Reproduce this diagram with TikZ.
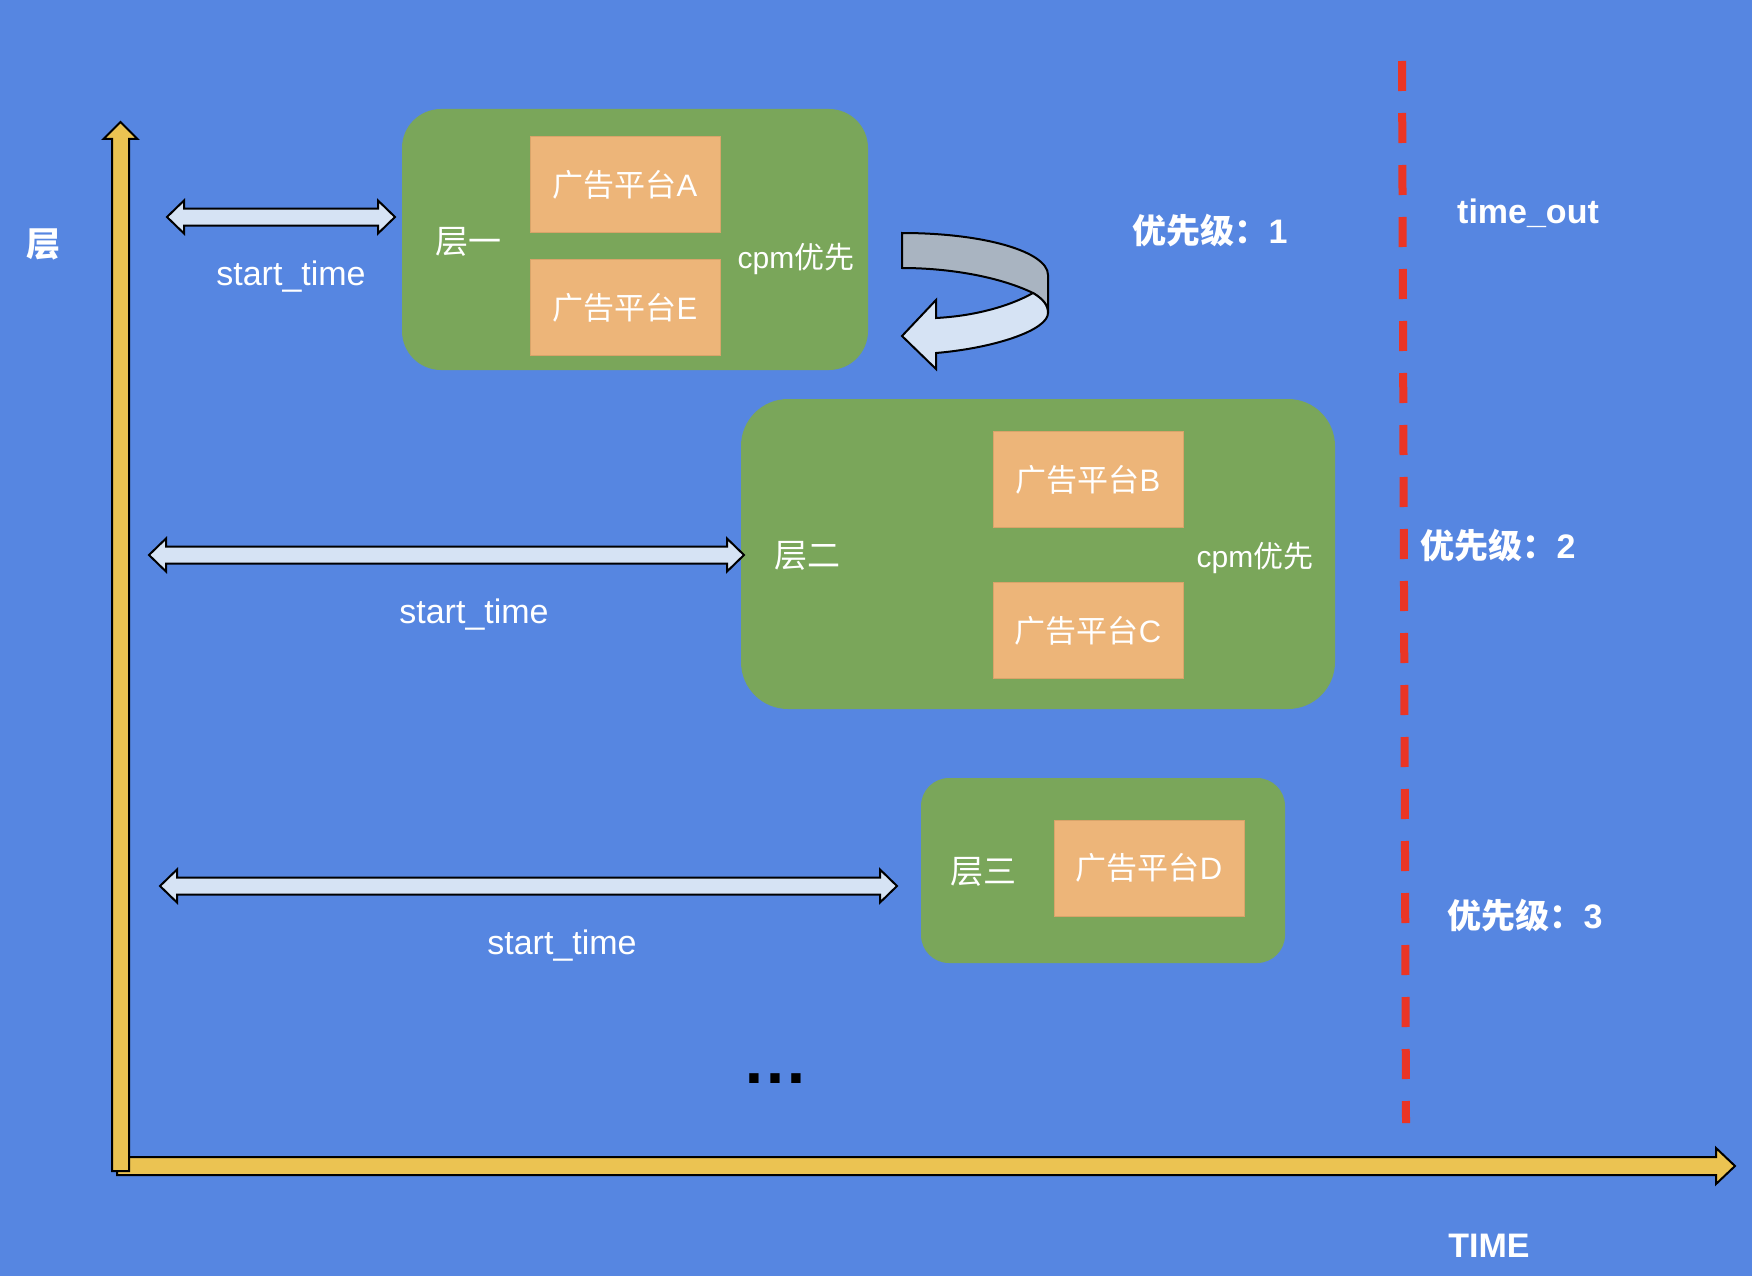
\documentclass[tikz,border=0pt]{standalone}
\usepackage{fontspec}
\setmainfont{Liberation Sans}
\newfontfamily\cjk{Noto Sans CJK SC}
\usetikzlibrary{positioning,calc}
\definecolor{bgblue}{HTML}{5686E1}
\definecolor{tiergreen}{HTML}{7AA65A}
\definecolor{adorange}{HTML}{EDB579}
\definecolor{adedge}{HTML}{D9A46A}
\definecolor{axisyellow}{HTML}{EBC352}
\definecolor{spanfill}{HTML}{D6E3F4}
\definecolor{turngray}{HTML}{A9B4C1}
\definecolor{cutred}{HTML}{EA3525}
\newcommand\zh[1]{{\cjk #1}}
\newcommand\spanarrow[2]{%
  \draw[spanbar] let \p1=(#1), \p2=(#2) in
    (\x1,\y1) -- (\x1+17pt,\y1+16.5pt) -- (\x1+17pt,\y1+8.5pt)
    -- (\x2-17pt,\y1+8.5pt) -- (\x2-17pt,\y1+16.5pt) -- (\x2,\y1)
    -- (\x2-17pt,\y1-16.5pt) -- (\x2-17pt,\y1-8.5pt)
    -- (\x1+17pt,\y1-8.5pt) -- (\x1+17pt,\y1-16.5pt) -- cycle;}

\begin{document}
\begin{tikzpicture}[x=1pt,y=-1pt,
    tier/.style={fill=tiergreen,rounded corners=#1,inner sep=0,outer sep=0},
    platform/.style={fill=adorange,draw=adedge,line width=1pt,minimum width=190pt,
                     minimum height=96pt,inner sep=0,outer sep=0,text=white,
                     font=\fontsize{31}{36}\selectfont},
    lbl/.style={text=white,inner sep=0,font=\fontsize{34}{40}\selectfont},
    tag/.style={text=white,inner sep=0,font=\fontsize{34}{40}\selectfont\bfseries},
    spanbar/.style={draw=black,line width=2pt,fill=spanfill},
    axisbar/.style={draw=black,line width=2pt,fill=axisyellow},
    timeout/.style={draw=cutred,line width=8pt,dash pattern=on 30pt off 22pt}]
    \fill[bgblue] (0,0) rectangle (1752,1276);
    \useasboundingbox (0,0) rectangle (1752,1276);

    % layers
    \node [tier=39pt,minimum width=466pt,minimum height=261pt] (l1) at (635,239.5) {};
    \node [tier=47pt,minimum width=594pt,minimum height=310pt] (l2) at (1038,554) {};
    \node [tier=28pt,minimum width=364pt,minimum height=185pt] (l3) at (1103,870.5) {};

    \node [platform] (A) at (625,184.5)  {\zh{广告平台}A};
    \node [platform] (E) [below=27pt of A] {\zh{广告平台}E};
    \node [platform] (B) at (1088,479.5) {\zh{广告平台}B};
    \node [platform] (C) [below=55pt of B] {\zh{广告平台}C};
    \node [platform] (D) at (1149,868)   {\zh{广告平台}D};

    \node [lbl,font=\fontsize{33}{38}\selectfont] (n1) at (468,242) {\zh{层一}};
    \node [lbl,font=\fontsize{33}{38}\selectfont] (n2) at (807,556) {\zh{层二}};
    \node [lbl,font=\fontsize{33}{38}\selectfont] (n3) at (983,872) {\zh{层三}};
    \node [lbl,font=\fontsize{30}{36}\selectfont] (c1) at (796,259)  {cpm\zh{优先}};
    \node [lbl,font=\fontsize{30}{36}\selectfont] (c2) at (1255,558) {cpm\zh{优先}};

    % turn arrow
    \draw[line width=2pt,fill=turngray] (902,233) .. controls (985,233) and (1048,252) .. (1048,275)
        -- (1048,313) .. controls (1048,305) and (1043,299) .. (1033,293)
        .. controls (1000,277) and (950,268) .. (902,268) -- cycle;
    \draw[line width=2pt,fill=spanfill] (1033,293) .. controls (1043,299) and (1048,305) .. (1048,313)
        .. controls (1048,330) and (995,348) .. (936,353) -- (936,369) -- (902,336)
        -- (936,300) -- (936,318) .. controls (975,316) and (1010,306) .. (1033,293) -- cycle;

    % start_time spans
    \coordinate (s1) at (167,217);
    \coordinate (s2) at (149,555);
    \coordinate (s3) at (160,886);
    \spanarrow{s1}{$(l1.west)+(-7,0)$}
    \spanarrow{s2}{$(l2.west)+(3,0)$}
    \spanarrow{s3}{$(l3.west)+(-24,0)$}
    \node [lbl,anchor=base] (t1) at (291,285) {start\_time};
    \node [lbl,anchor=base] (t2) at (474,623) {start\_time};
    \node [lbl,anchor=base] (t3) at (562,954) {start\_time};

    % axes
    \coordinate (xo) at (117,1166);
    \coordinate (xt) at (1735,1166);
    \coordinate (yo) at (120.5,1171);
    \coordinate (yt) at (120.5,122);
    \draw[axisbar] let \p1=(xo), \p2=(xt) in
        (\x1,\y1+9pt) -- (\x2-19pt,\y1+9pt) -- (\x2-19pt,\y1+18pt) -- (\x2,\y1)
        -- (\x2-19pt,\y1-18pt) -- (\x2-19pt,\y1-9pt) -- (\x1,\y1-9pt) -- cycle;
    \draw[axisbar] let \p1=(yo), \p2=(yt) in
        (\x1-8.5pt,\y1) -- (\x1-8.5pt,\y2-17pt) -- (\x1-17pt,\y2-17pt) -- (\x1,\y2)
        -- (\x1+17pt,\y2-17pt) -- (\x1+8.5pt,\y2-17pt) -- (\x1+8.5pt,\y1) -- cycle;

    % time_out line
    \coordinate (cut1) at (1402,61);
    \coordinate (cut2) at (1406,1123);
    \draw[timeout] (cut1) -- (cut2);

    \node [tag] (yl) at (43,244) {\zh{层}};
    \node [tag] (p1) at (1210,230) {\zh{优先级：}1};
    \node [tag] (p2) at (1498,545) {\zh{优先级：}2};
    \node [tag] (p3) at (1525,915) {\zh{优先级：}3};
    \node [tag,anchor=base] (to) at (1528,223) {time\_out};
    \node [tag,anchor=base] (tm) at (1489,1257) {TIME};
    \node [inner sep=0,font=\fontsize{66}{70}\selectfont\bfseries] (dots) at (775,1079) {…};
\end{tikzpicture}
\end{document}
